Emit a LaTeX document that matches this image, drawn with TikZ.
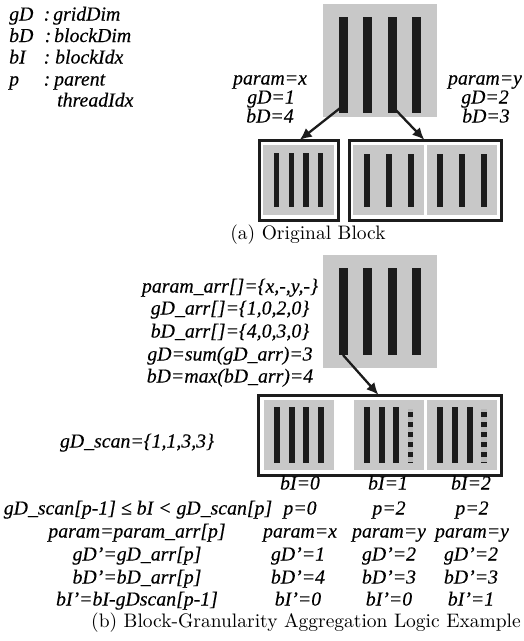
\documentclass[tikz,border=0pt]{standalone}
\usepackage{fontspec}
\usepackage{graphicx}
\newfontfamily\lab{Liberation Serif Italic}[FakeBold=0.3]
\usetikzlibrary{arrows.meta}
\definecolor{bgray}{RGB}{200,200,200}
\definecolor{barblk}{RGB}{28,28,28}
\tikzset{
  lbl/.style={font=\lab\fontsize{19.8}{22}\selectfont, inner sep=0pt, text height=13pt, text depth=4pt},
  captxt/.style={font=\fontsize{10}{12}\selectfont, inner sep=0pt},
  graybox/.style={fill=bgray, draw=none},
  outerbox/.style={draw=barblk, line width=3.5pt, fill=white},
  arr/.style={draw=barblk, line width=2.3pt, -{Latex[length=12pt,width=11pt]}},
}
\newcommand{\vbar}[4]{\fill[barblk] (#1-#2/2,#3) rectangle (#1+#2/2,#4);}
\newcommand{\dbar}[4]{%
  \fill[gray!55] (#1-#2/2,#3) rectangle (#1+#2/2,#4);
  \draw[barblk, line width=#2pt, dash pattern=on 5pt off 5pt] (#1,#3+3) -- (#1,#4);
  \fill[barblk] (#1-#2/2,#4-1.2) rectangle (#1+#2/2,#4);}
\begin{document}
\begin{tikzpicture}[x=1pt,y=-1pt]
\useasboundingbox (0,0) rectangle (524,641);
% ---------- legend ----------
\node[lbl, anchor=west] (k1) at (9,16) {gD};
\node[lbl] (c1) at (47,16) {:};
\node[lbl, anchor=west] (v1) at (53,16) {gridDim};
\node[lbl, anchor=west] (k2) at (9,37.5) {bD};
\node[lbl] (c2) at (48,37.5) {:};
\node[lbl, anchor=west] (v2) at (54,37.5) {blockDim};
\node[lbl, anchor=west] (k3) at (9,59) {bI};
\node[lbl] (c3) at (47,59) {:};
\node[lbl, anchor=west] (v3) at (55,59) {blockIdx};
\node[lbl, anchor=west] (k4) at (9,81) {p};
\node[lbl] (c4) at (47,81) {:};
\node[lbl, anchor=west] (v4) at (54,81) {parent};
\node[lbl, anchor=west] (v5) at (57,102) {threadIdx};
% ---------- (a) ----------
\fill[graybox] (323,4) rectangle (437,117);
\vbar{343.5}{9}{17}{113}
\vbar{367.5}{9}{17}{113}
\vbar{392.5}{9}{17}{113}
\vbar{416.5}{9}{17}{113}
\coordinate (aL) at (344,105);
\coordinate (aR) at (391,105);
\draw[outerbox] (259.5,140.5) rectangle (338.5,220.5);
\node[inner sep=0pt, minimum width=1pt] (boxL) at (299,140.5) {};
\fill[graybox] (263,145) rectangle (334,215);
\vbar{276.5}{5.5}{153}{207}
\vbar{291.5}{5.5}{153}{207}
\vbar{306}{5.5}{153}{207}
\vbar{320.5}{5.5}{153}{207}
\draw[outerbox] (349.5,140.5) rectangle (501.5,220.5);
\node[inner sep=0pt, minimum width=1pt] (boxR) at (425,140.5) {};
\fill[graybox] (353,145) rectangle (424,215);
\fill[graybox] (427,145) rectangle (497,215);
\vbar{367}{6}{154}{207}
\vbar{389}{6}{154}{207}
\vbar{411}{6}{154}{207}
\vbar{440}{6}{154}{207}
\vbar{461.5}{6}{154}{207}
\vbar{484}{6}{154}{207}
\draw[arr] (aL) -- (boxL);
\draw[arr] (aR) -- (boxR);
\node[lbl] (pxa) at (270,80) {param=x};
\node[lbl] (gda) at (271,99) {gD=1};
\node[lbl] (bda) at (270,118) {bD=4};
\node[lbl] (pya) at (485,80) {param=y};
\node[lbl] (gdb) at (485,99) {gD=2};
\node[lbl] (bdb) at (486,118) {bD=3};
\node[captxt] (capa) at (308,235) {\scalebox{1.95}{(a) Original Block}};
% ---------- (b) ----------
\fill[graybox] (323,255) rectangle (437,368);
\vbar{343.5}{9}{268}{355}
\vbar{367.5}{9}{268}{355}
\vbar{392.5}{9}{268}{355}
\vbar{416.5}{9}{268}{355}
\coordinate (bA) at (343,355);
\draw[outerbox] (258.5,395.5) rectangle (501.5,475.5);
\node[inner sep=0pt, minimum width=1pt] (boxB) at (379,395.5) {};
\fill[graybox] (264,400) rectangle (334,470);
\fill[graybox] (354,400) rectangle (424,470);
\fill[graybox] (427,400) rectangle (497,470);
\vbar{277}{6}{407}{463}
\vbar{291.5}{6}{407}{463}
\vbar{306}{6}{407}{463}
\vbar{321}{6}{407}{463}
\vbar{367}{6}{407}{463}
\vbar{382}{6}{407}{463}
\vbar{396}{6}{407}{463}
\dbar{410.5}{5.5}{409}{463}
\vbar{440}{6}{407}{463}
\vbar{455}{6}{407}{463}
\vbar{470}{6}{407}{463}
\dbar{484}{5.5}{409}{463}
\draw[arr] (bA) -- (boxB);
\node[lbl] (t1) at (230,288) {param\_arr[]=\{x,-,y,-\}};
\node[lbl] (t2) at (230,310) {gD\_arr[]=\{1,0,2,0\}};
\node[lbl] (t3) at (230,333) {bD\_arr[]=\{4,0,3,0\}};
\node[lbl] (t4) at (230,356) {gD=sum(gD\_arr)=3};
\node[lbl] (t5) at (230,378) {bD=max(bD\_arr)=4};
\node[lbl] (scan) at (137,443) {gD\_scan=\{1,1,3,3\}};
% columns
\node[lbl] (bi0) at (300,485) {bI=0};
\node[lbl] (bi1) at (388,485) {bI=1};
\node[lbl] (bi2) at (471,485) {bI=2};
\node[lbl] (r1) at (138,510) {gD\_scan[p-1] ≤ bI < gD\_scan[p]};
\node[lbl] (p0) at (300,510) {p=0};
\node[lbl] (p1) at (389,510) {p=2};
\node[lbl] (p2) at (472,510) {p=2};
\node[lbl] (r2) at (137,533) {param=param\_arr[p]};
\node[lbl] (q0) at (300,533) {param=x};
\node[lbl] (q1) at (389,533) {param=y};
\node[lbl] (q2) at (472,533) {param=y};
\node[lbl] (r3) at (137,556) {gD’=gD\_arr[p]};
\node[lbl] (g0) at (298,556) {gD’=1};
\node[lbl] (g1) at (389,556) {gD’=2};
\node[lbl] (g2) at (471,556) {gD’=2};
\node[lbl] (r4) at (137,579) {bD’=bD\_arr[p]};
\node[lbl] (d0) at (298,579) {bD’=4};
\node[lbl] (d1) at (389,579) {bD’=3};
\node[lbl] (d2) at (471,579) {bD’=3};
\node[lbl] (r5) at (137,601) {bI’=bI-gDscan[p-1]};
\node[lbl] (i0) at (298,601) {bI’=0};
\node[lbl] (i1) at (389,601) {bI’=0};
\node[lbl] (i2) at (471,601) {bI’=1};
\node[captxt] (capb) at (306,623) {\scalebox{1.95}{(b) Block-Granularity Aggregation Logic Example}};
\end{tikzpicture}
\end{document}
